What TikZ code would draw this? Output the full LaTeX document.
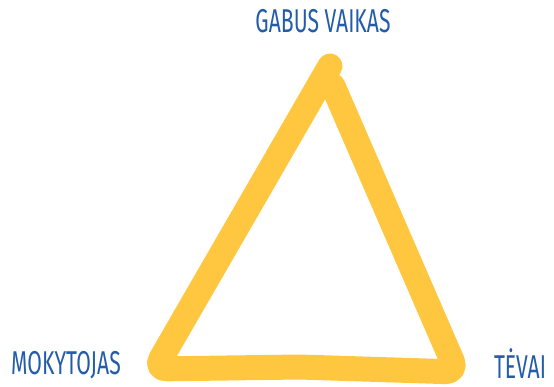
\documentclass[tikz,border=0pt]{standalone}
\usepackage{fontspec}
\setmainfont{Fira Sans}[FakeStretch=0.64]
\usetikzlibrary{positioning}
\definecolor{triyellow}{RGB}{255,198,64}
\definecolor{roleblue}{RGB}{35,92,168}

\begin{document}
\begin{tikzpicture}[x=1pt, y=-1pt,
    edge/.style={draw=triyellow, line width=25pt, line cap=round, line join=round, rounded corners=12pt},
    role/.style={text=roleblue, font=\fontsize{33}{33}\selectfont, inner sep=0pt}
]
\useasboundingbox (0,0) rectangle (554,387);

\coordinate (apex) at (330,66);
\coordinate (left) at (155,369);
\coordinate (right) at (457,372);
\coordinate (back) at (333,86);

\draw[edge] (apex) -- (left) -- (300,367) -- (right) -- (back);

\node[role] (child) at (323,21) {GABUS VAIKAS};
\node[role] (teacher) at (66,365) {MOKYTOJAS};
\node[role] (parents) at (520,364) {TĖVAI};
\end{tikzpicture}
\end{document}
